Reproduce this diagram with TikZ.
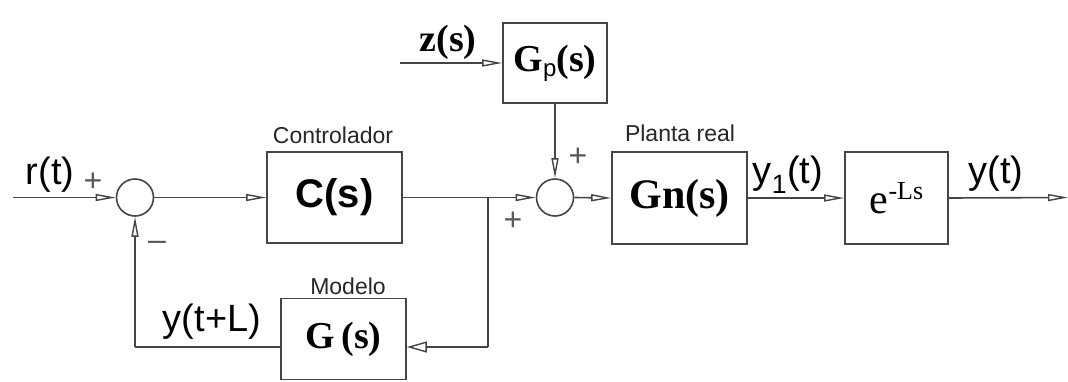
\documentclass[tikz,border=0pt]{standalone}
\usepackage{fontspec}
\setmainfont{Liberation Serif}
\setsansfont{Liberation Sans}
\usetikzlibrary{arrows.meta}
\definecolor{ln}{HTML}{454545}
\begin{document}
\begin{tikzpicture}[x=1pt,y=-1pt,
  blk/.style={draw=ln, line width=1.6pt, inner sep=0pt, text=black},
  sumnode/.style={draw=ln, line width=1.6pt, circle, minimum size=37pt, inner sep=0pt},
  arr/.style={draw=ln, line width=1.6pt, -{Triangle[open,length=20pt,width=7pt,line width=1.4pt]}},
  wire/.style={draw=ln, line width=1.6pt},
  lbl/.style={font=\sffamily\fontsize{23}{26}\selectfont, text=black!85, inner sep=0pt},
  sig/.style={font=\sffamily\fontsize{38}{42}\selectfont, text=black, inner sep=0pt},
  sgn/.style={font=\sffamily\fontsize{32}{36}\selectfont, text=black!65, inner sep=0pt},
  tf/.style={font=\bfseries\fontsize{38}{42}\selectfont}
]
\useasboundingbox (0,0) rectangle (1068,381);
\fill[white] (0,0) rectangle (1068,381);

% blocks
\node[blk, minimum width=135pt, minimum height=91pt, font=\sffamily\bfseries\fontsize{40}{44}\selectfont] (C) at (334.5,197.5) {C(s)};
\node[blk, minimum width=104pt, minimum height=80pt, tf] (Gp) at (555,63) {G\raisebox{-0.3ex}{\sffamily\mdseries\fontsize{24}{26}\selectfont p}(s)};
\node[blk, minimum width=135pt, minimum height=92pt, font=\bfseries\fontsize{42}{46}\selectfont] (Gn) at (679.5,198) {Gn(s)};
\node[blk, minimum width=103pt, minimum height=92pt, font=\fontsize{42}{46}\selectfont] (E) at (896.5,198) {e\raisebox{0.75ex}{\fontsize{26}{28}\selectfont -Ls}};
\node[blk, minimum width=125pt, minimum height=81pt, tf] (G) at (343.5,339) {G\,(s)};

% summing junctions
\node[sumnode] (S1) at (135,197.5) {};
\node[sumnode] (S2) at (555,197.5) {};

% coordinates
\coordinate (rin) at (13,197.5);
\coordinate (zin) at (400,63);
\coordinate (br) at (488,197.5);
\coordinate (fbR) at (488,347);
\coordinate (fbL) at (135,347);
\coordinate (yout) at (1068,197.5);

% connectors
\draw[arr] (rin) -- (S1.west);
\draw[arr] (S1.east) -- (C.west);
\draw[arr] (C.east) -- (S2.west);
\draw[arr] (zin) -- (Gp.west);
\draw[arr] (Gp.south) -- (S2.north);
\draw[arr] (S2.east) -- (Gn.west);
\draw[arr] (Gn.east) -- (E.west);
\draw[arr] (E.east) -- (yout);
\draw[wire] (br) -- (fbR);
\draw[draw=ln, line width=1.6pt, -{Triangle[open,length=20pt,width=11pt,line width=1.4pt]}] (fbR) -- (G.east |- fbR);
\draw[wire] (G.west |- fbL) -- (fbL);
\draw[arr] (fbL) -- (S1.south);

% labels
\node[lbl] at (333,135) {Controlador};
\node[lbl] at (680,133) {Planta real};
\node[lbl] at (348,286) {Modelo};

\node[sig] at (50,175) {r(t)};
\node[sig] at (788,175) {y\textsubscript{1}(t)};
\node[sig] at (996,174) {y(t)};
\node[sig] at (212,322) {y(t+L)};
\node[font=\bfseries\fontsize{38}{42}\selectfont] at (448,42) {z(s)};

\node[sgn] at (93,182) {+};
\node[sgn] at (157,246) {\textendash};
\node[sgn] at (578,157) {+};
\node[sgn] at (513,221) {+};
\end{tikzpicture}
\end{document}
